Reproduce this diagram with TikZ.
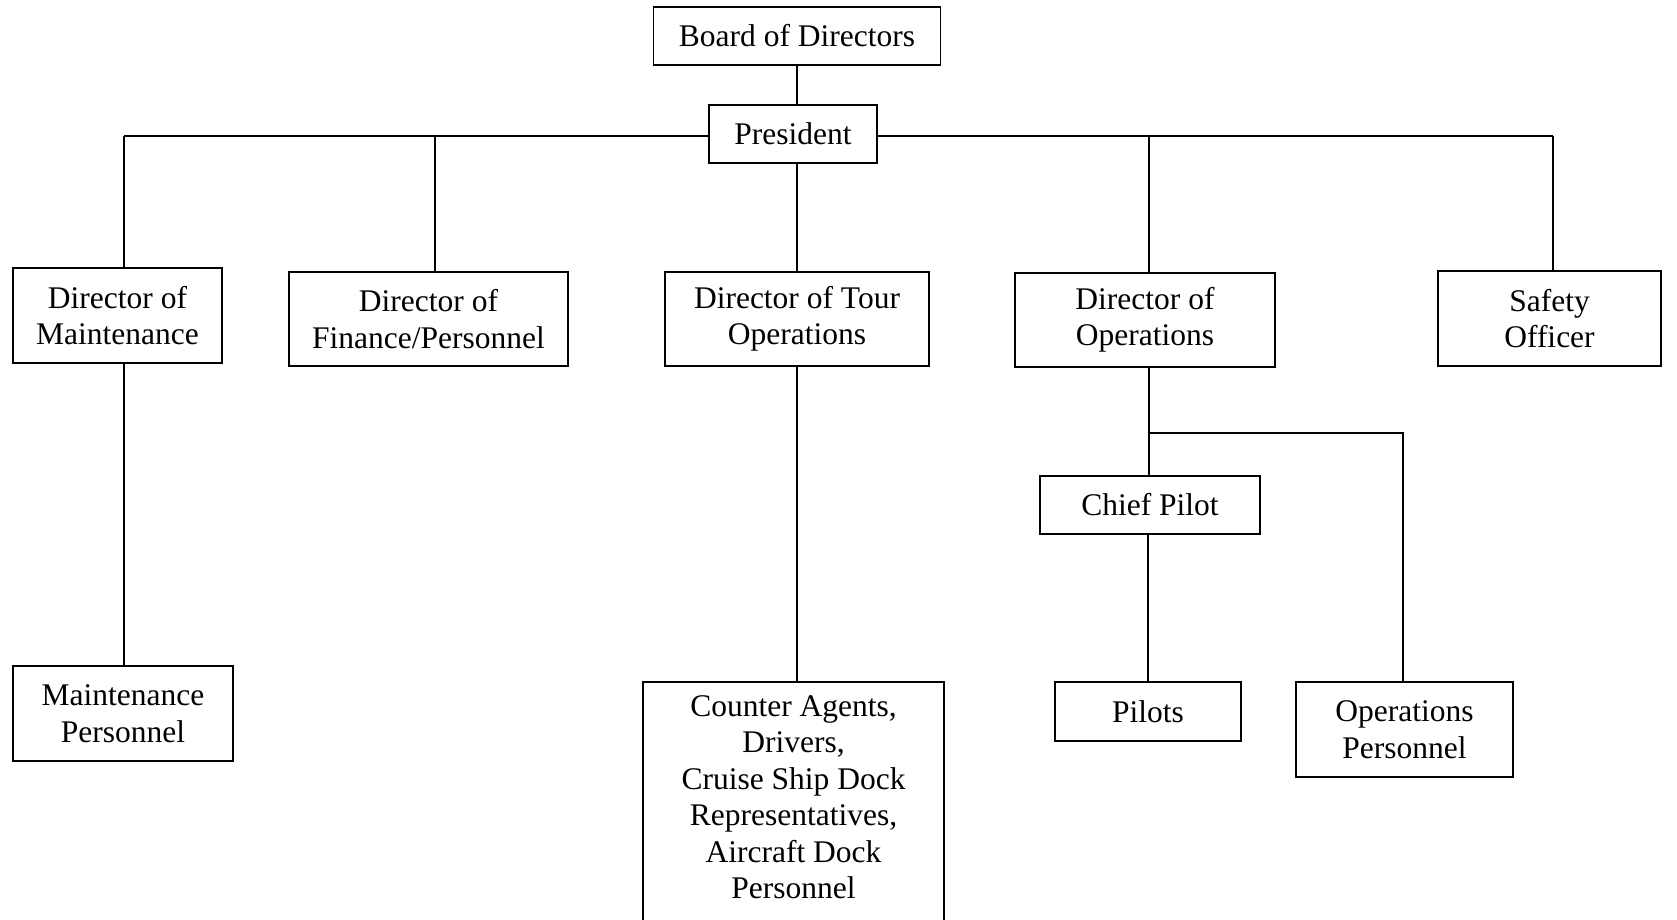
\documentclass[tikz,border=0pt]{standalone}
\usepackage{fontspec}
\setmainfont{Liberation Serif}
\begin{document}
\begin{tikzpicture}[x=1pt,y=-1pt,
  box/.style={draw=black,fill=white,line width=1.6pt,rectangle,inner sep=0pt,
    align=center,font=\fontsize{31.5}{36.5}\selectfont},
  conn/.style={draw=black,line width=1.3pt}]
\useasboundingbox (0,0) rectangle (1677,919);
\begin{scope}
\clip (0,0) rectangle (1677,919);
% nodes
\node[box,minimum width=287pt,minimum height=58pt] (board) at (797,36) {Board of Directors};
\node[box,minimum width=168pt,minimum height=58pt] (pres) at (793,134) {President};
\node[box,minimum width=209pt,minimum height=95pt] (dmaint) at (117.5,315.5) {Director of\\Maintenance};
\node[box,minimum width=279pt,minimum height=94pt] (dfin) at (428.5,319) {Director of\\Finance/Personnel};
\node[box,minimum width=264pt,minimum height=94pt] (dtour) at (797,319) {Director of Tour\\Operations};
\node[box,minimum width=260pt,minimum height=94pt] (dops) at (1145,320) {Director of\\Operations};
\node[box,minimum width=223pt,minimum height=95pt] (safety) at (1549.5,318.5) {Safety\\Officer};
\node[box,minimum width=220pt,minimum height=58pt] (chief) at (1150,505) {Chief Pilot};
\node[box,minimum width=220pt,minimum height=95pt] (mpers) at (123,713.5) {Maintenance\\Personnel};
\node[box,minimum width=301pt,minimum height=262pt,anchor=north] (counter) at (793.5,681) {};
\node[font=\fontsize{31.5}{36.5}\selectfont,align=center,anchor=north] (countertext) at (793.5,692) {Counter Agents,\\Drivers,\\Cruise Ship Dock\\Representatives,\\Aircraft Dock\\Personnel};
\node[box,minimum width=186pt,minimum height=59pt] (pilots) at (1148,711.5) {Pilots};
\node[box,minimum width=217pt,minimum height=95pt] (opers) at (1404.5,729.5) {Operations\\Personnel};
% bus coordinates
\coordinate (b1) at (124,136);
\coordinate (b2) at (435,136);
\coordinate (b4) at (1149,136);
\coordinate (b5) at (1553,136);
\coordinate (br) at (1149,433);
\coordinate (brr) at (1403,433);
% connectors
\draw[conn] (board.south) -- (board.south |- pres.north);
\draw[conn] (b1) -- (b1 -| pres.west);
\draw[conn] (b5 -| pres.east) -- (b5);
\draw[conn] (b1) -- (b1 |- dmaint.north);
\draw[conn] (b2) -- (b2 |- dfin.north);
\draw[conn] (dtour.north |- pres.south) -- (dtour.north);
\draw[conn] (b4) -- (b4 |- dops.north);
\draw[conn] (b5) -- (b5 |- safety.north);
\draw[conn] (b1 |- dmaint.south) -- (b1 |- mpers.north);
\draw[conn] (dtour.south) -- (dtour.south |- counter.north);
\draw[conn] (br |- dops.south) -- (br |- chief.north);
\draw[conn] (br) -- (brr) -- (brr |- opers.north);
\draw[conn] (pilots.north |- chief.south) -- (pilots.north);
\end{scope}
\end{tikzpicture}
\end{document}
